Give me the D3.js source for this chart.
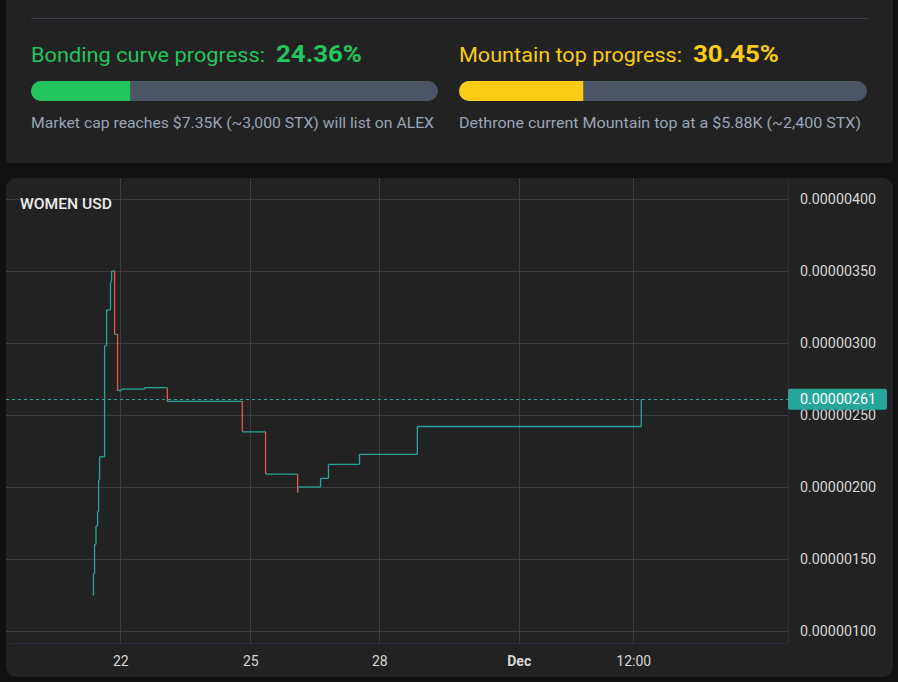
<!DOCTYPE html>
<html>
<head>
<meta charset="utf-8">
<script src="https://cdn.jsdelivr.net/npm/d3@7"></script>
<style>
  html, body { margin: 0; padding: 0; background: #111111; }
  svg { display: block; }
</style>
</head>
<body>
<svg class="main"></svg>
<script>
var width = 898,
    height = 682;

// progress panel
var progressTitles = ["Bonding curve progress:", "Mountain top progress:"],
    progressValues = [24.36, 30.45],
    progressNotes = ["Market cap reaches $7.35K (~3,000 STX) will list on ALEX",
                     "Dethrone current Mountain top at a $5.88K (~2,400 STX)"],
    progressColors = ["#22c55e", "#facc15"];

// price steps (WOMEN / USD)
var times = [
    "2024-11-21T08:40", "2024-11-21T09:10", "2024-11-21T09:45", "2024-11-21T10:32",
    "2024-11-21T11:25", "2024-11-21T12:00", "2024-11-21T12:32", "2024-11-21T15:18",
    "2024-11-21T16:25", "2024-11-21T18:35", "2024-11-21T18:49", "2024-11-21T19:12",
    "2024-11-21T20:51", "2024-11-21T22:30", "2024-11-22T00:43", "2024-11-22T13:27",
    "2024-11-23T02:02", "2024-11-24T19:34", "2024-11-25T08:32", "2024-11-26T02:24",
    "2024-11-26T02:30", "2024-11-26T15:14", "2024-11-26T19:39", "2024-11-27T12:57",
    "2024-11-28T19:38", "2024-12-01T12:50"
];
var prices = [
    0.00000125, 0.00000140, 0.00000160, 0.00000173,
    0.00000183, 0.00000205, 0.00000221, 0.00000298,
    0.00000323, 0.000003415, 0.00000343, 0.00000350,
    0.00000306, 0.00000267, 0.00000268, 0.00000269,
    0.000002595, 0.000002383, 0.000002089, 0.000001962,
    0.00000200, 0.00000206, 0.000002157, 0.000002227,
    0.00000242, 0.00000261
];
var lastPrice = 0.00000261;

// axis ticks
var xTickDates = ["2024-11-22T00:00", "2024-11-25T00:00", "2024-11-28T00:00", "2024-12-01T00:00", "2024-12-01T12:00"],
    xTickLabels = ["22", "25", "28", "Dec", "12:00"],
    xTickBold = [false, false, false, true, false],
    yTicks = [0.000001, 0.0000015, 0.000002, 0.0000025, 0.000003, 0.0000035, 0.000004];

var up = "#26a69a", down = "#ef5350", grid = "#3c3c3c";

var parse = d3.timeParse("%Y-%m-%dT%H:%M");
var data = times.map(function(t, i) { return {t: parse(t), p: prices[i]}; });

var svg = d3.select(".main").attr("width", width).attr("height", height)
    .style("font-family", "Roboto, sans-serif");

svg.append("rect").attr("width", width).attr("height", height).attr("fill", "#111111");

// ---------- progress card ----------
var panel = svg.append("g");
panel.append("rect").attr("x", 6).attr("y", -12).attr("width", 887).attr("height", 175)
    .attr("rx", 4).attr("fill", "#222222");
panel.append("line").attr("x1", 31).attr("x2", 868).attr("y1", 18.5).attr("y2", 18.5)
    .attr("stroke", "#3a4252").attr("stroke-width", 1);

var colX = [31, 459], barW = [407, 408];
progressTitles.forEach(function(title, i) {
    var g = panel.append("g").attr("transform", "translate(" + colX[i] + ",0)");
    var tw = i === 0 ? 234 : 223;
    g.append("text").attr("x", 0).attr("y", 62).text(title)
        .attr("fill", progressColors[i]).attr("font-size", 21)
        .attr("textLength", tw).attr("lengthAdjust", "spacingAndGlyphs");
    g.append("text").attr("x", tw + 11).attr("y", 62).text(progressValues[i].toFixed(2) + "%")
        .attr("fill", progressColors[i]).attr("font-size", 23).attr("font-weight", 700)
        .attr("textLength", 86).attr("lengthAdjust", "spacingAndGlyphs");

    var px = d3.scaleLinear().domain([0, 100]).range([0, barW[i]]);
    g.append("rect").attr("x", 0).attr("y", 81).attr("width", px(100)).attr("height", 20)
        .attr("rx", 10).attr("fill", "#4b5563");
    g.append("clipPath").attr("id", "bar" + i)
        .append("rect").attr("x", 0).attr("y", 81).attr("width", px(progressValues[i])).attr("height", 20);
    g.append("rect").attr("x", 0).attr("y", 81).attr("width", px(100)).attr("height", 20)
        .attr("rx", 10).attr("fill", progressColors[i]).attr("clip-path", "url(#bar" + i + ")");

    g.append("text").attr("x", 0).attr("y", 128).text(progressNotes[i])
        .attr("fill", "#9aa6b8").attr("font-size", 15)
        .attr("textLength", i === 0 ? 403 : 402).attr("lengthAdjust", "spacingAndGlyphs");
});

// ---------- chart card ----------
var chart = svg.append("g");
chart.append("rect").attr("x", 6).attr("y", 178).attr("width", 887).attr("height", 499)
    .attr("rx", 10).attr("fill", "#222222");

var plotL = 6, plotR = 788, plotT = 178, plotB = 643;

var x = d3.scaleTime()
    .domain(xTickDates.map(parse))
    .range([120.3, 250.3, 379.3, 518.7, 633.3]);
var y = d3.scaleLinear().domain([0.000001, 0.000004]).range([631, 199]);

var clip = chart.append("clipPath").attr("id", "plot");
clip.append("rect").attr("x", plotL).attr("y", plotT).attr("width", plotR - plotL).attr("height", plotB - plotT);

// grid
chart.append("g").selectAll("line").data(yTicks).join("line")
    .attr("x1", plotL).attr("x2", plotR)
    .attr("y1", function(d) { return Math.round(y(d)) + 0.5; })
    .attr("y2", function(d) { return Math.round(y(d)) + 0.5; })
    .attr("stroke", grid);
chart.append("g").selectAll("line").data(xTickDates).join("line")
    .attr("x1", function(d) { return Math.round(x(parse(d))) + 0.5; })
    .attr("x2", function(d) { return Math.round(x(parse(d))) + 0.5; })
    .attr("y1", plotT).attr("y2", plotB)
    .attr("stroke", grid);

// axis borders
chart.append("line").attr("x1", plotR + 0.5).attr("x2", plotR + 0.5).attr("y1", plotT).attr("y2", plotB)
    .attr("stroke", "#2b2b45");
chart.append("line").attr("x1", 10).attr("x2", plotR).attr("y1", plotB + 0.5).attr("y2", plotB + 0.5)
    .attr("stroke", "#2b2b45");

// last price dashed line
chart.append("line").attr("x1", plotL).attr("x2", plotR)
    .attr("y1", Math.round(y(lastPrice)) + 0.5).attr("y2", Math.round(y(lastPrice)) + 0.5)
    .attr("stroke", up).attr("stroke-width", 1.2).attr("stroke-dasharray", "3,3");

// step line
var series = chart.append("g").attr("clip-path", "url(#plot)").attr("stroke-width", 1.3)
    .attr("fill", "none");
var segs = data.slice(1).map(function(d, i) { return {a: data[i], b: d}; });
series.selectAll(".h").data(segs).join("line").attr("class", "h")
    .attr("x1", function(s) { return x(s.a.t); })
    .attr("x2", function(s) { return x(s.b.t); })
    .attr("y1", function(s) { return y(s.a.p); })
    .attr("y2", function(s) { return y(s.a.p); })
    .attr("stroke", up);
series.selectAll(".vu").data(segs.filter(function(s) { return s.b.p >= s.a.p; })).join("line").attr("class", "vu")
    .attr("x1", function(s) { return x(s.b.t); })
    .attr("x2", function(s) { return x(s.b.t); })
    .attr("y1", function(s) { return y(s.a.p); })
    .attr("y2", function(s) { return y(s.b.p); })
    .attr("stroke", up);
series.selectAll(".vd").data(segs.filter(function(s) { return s.b.p < s.a.p; })).join("line").attr("class", "vd")
    .attr("x1", function(s) { return x(s.b.t); })
    .attr("x2", function(s) { return x(s.b.t); })
    .attr("y1", function(s) { return y(s.a.p); })
    .attr("y2", function(s) { return y(s.b.p); })
    .attr("stroke", down);

// y axis
var yAxis = d3.axisRight(y).tickValues(yTicks).tickFormat(d3.format(".8f")).tickSize(0).tickPadding(12);
var ya = chart.append("g").attr("transform", "translate(" + plotR + ",0)").call(yAxis);
ya.select(".domain").remove();
ya.selectAll("text").attr("fill", "#d8d8d8").attr("font-size", 14.3).attr("font-family", "Roboto, sans-serif");

// price label
chart.append("rect").attr("x", plotR).attr("y", y(lastPrice) - 10.5).attr("width", 99).attr("height", 21)
    .attr("rx", 2).attr("fill", up);
chart.append("text").attr("x", plotR + 12).attr("y", y(lastPrice)).attr("dy", "0.35em")
    .text(d3.format(".8f")(lastPrice)).attr("fill", "#ffffff").attr("font-size", 14.3);

// x axis
var xAxis = d3.axisBottom(x).tickValues(xTickDates.map(parse))
    .tickFormat(function(d, i) { return xTickLabels[i]; }).tickSize(0).tickPadding(13);
var xa = chart.append("g").attr("transform", "translate(0," + plotB + ")").call(xAxis);
xa.select(".domain").remove();
xa.selectAll("text").attr("fill", "#d8d8d8").attr("font-size", 14).attr("font-family", "Roboto, sans-serif")
    .attr("font-weight", function(d, i) { return xTickBold[i] ? 700 : 400; });

// title
chart.append("text").attr("x", 20).attr("y", 209).text("WOMEN USD")
    .attr("fill", "#ececec").attr("font-size", 14).attr("font-weight", 500)
    .attr("textLength", 92).attr("lengthAdjust", "spacingAndGlyphs");
</script>
</body>
</html>
